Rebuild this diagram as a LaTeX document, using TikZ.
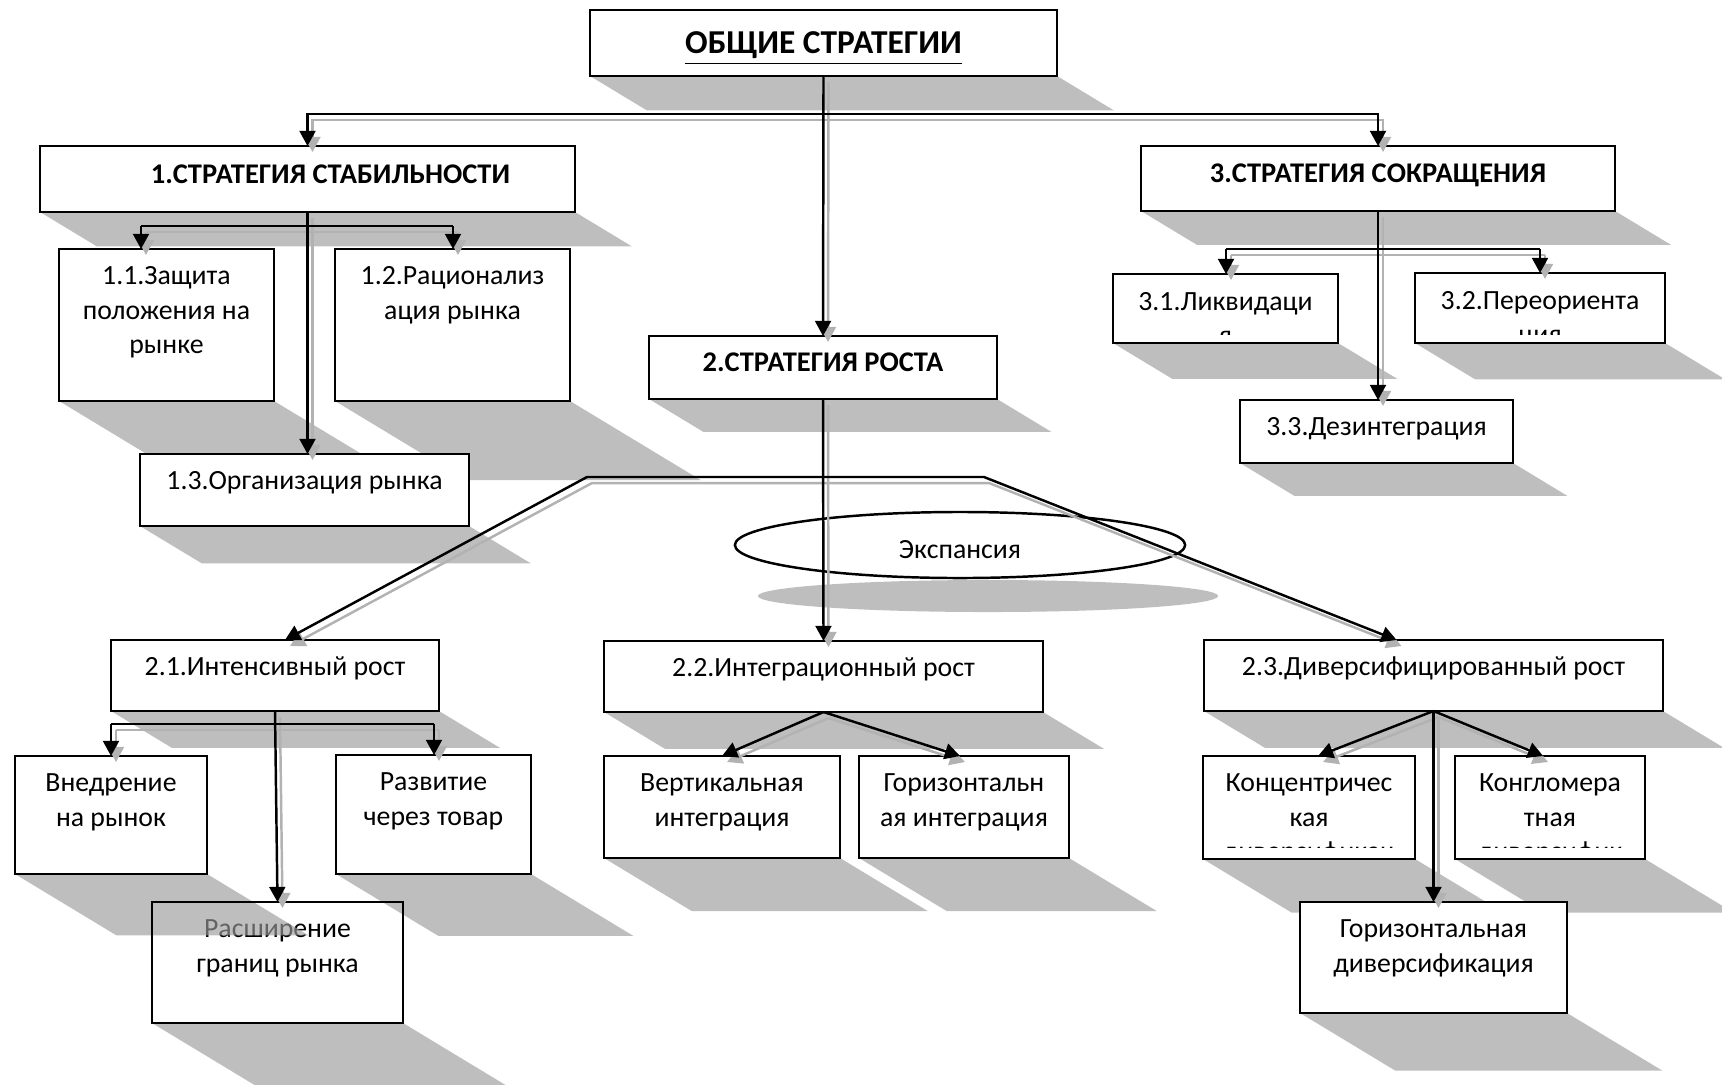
\documentclass[tikz,border=0pt]{standalone}
\usepackage{fontspec}
\setmainfont{Carlito}
\usetikzlibrary{arrows.meta,calc,shapes.geometric}
\pgfdeclarelayer{back}
\pgfdeclarelayer{shadow}
\pgfsetlayers{back,shadow,main}
\definecolor{shd}{RGB}{155,155,155}
\definecolor{sln}{RGB}{178,178,178}
\newcommand\fst{\rule{0pt}{7pt}}
\newif\ifshpass
\tikzset{
  box/.style={draw=black,line width=0.7pt,fill=white,inner sep=0pt,outer sep=0pt,anchor=north west},
  txt/.style={anchor=north,inner sep=0pt,align=center,font=\fontsize{7.9}{9.8}\selectfont},
  hdr/.style={txt,font=\fontsize{8.1}{9.8}\selectfont\bfseries},
  ttl/.style={txt,font=\fontsize{9.5}{11}\selectfont\bfseries},
  conn/.style={line width=0.7pt,-{Triangle[length=4.3pt,width=4.5pt]}},
  both/.style={line width=0.7pt,{Triangle[length=4.3pt,width=4.5pt]}-{Triangle[length=4.3pt,width=4.5pt]}},
  plain/.style={line width=0.7pt},
  shadowfill/.style={fill=shd,fill opacity=0.643},
}
\newcommand\mkbox[6][]{%
  \node[box,#1,minimum width={(#5-#3)*0.01cm},minimum height={(#6-#4)*0.01cm}] (#2) at (#3,#4) {};
  \begin{pgfonlayer}{shadow}
  \fill[shadowfill] (#3,#6) -- (#5,#6) -- ({#5+0.86*(#6-#4)},{#6+0.52*(#6-#4)}) -- ({#3+0.86*(#6-#4)},{#6+0.52*(#6-#4)}) -- cycle;
  \end{pgfonlayer}}
\newcommand\tx[4][txt]{\node[#1] (#2t) at ($(#2.north)+(0,#3)$) {\fst #4};}
\newcommand\cn[2][conn]{%
  \ifshpass\draw[#1,draw=sln,transform canvas={shift={(0.05cm,-0.06cm)}}] #2;%
  \else\draw[#1] #2;\fi}
\newcommand\allconn{%
  \cn{(top.south) -- (b2.north)}
  \cn{(j0) -| (b1.north)}
  \cn{(j0) -| (b3.north)}
  \cn{(b1.south) -- (b1.south |- b13.north)}
  \cn[plain]{(j1l) -- (j1r)}
  \cn{(j1l) -- (j1l |- b11.north)}
  \cn{(j1r) -- (j1r |- b12.north)}
  \cn{(b3.south) -- (b3.south |- b33.north)}
  \cn[plain]{(j3l) -- (j3r)}
  \cn{(j3l) -- (j3l |- b31.north)}
  \cn{(j3r) -- (j3r |- b32.north)}
  \cn{(b2.south) -- (b22.north)}
  \cn[both]{(pL) -- (eL) -- (eR) -- (pR)}
  \cn{(b21.south) -- (brs.north)}
  \cn[plain]{(j21l) -- (j21r)}
  \cn{(j21l) -- (j21l |- bvn.north)}
  \cn{(j21r) -- (j21r |- brz.north)}
  \cn{(b22.south) -- (bvi.north)}
  \cn{(b22.south) -- (gi)}
  \cn{(b23.south) -- (ki)}
  \cn{(b23.south) -- (kg)}
  \cn{(b23.south) -- (bgd.north)}
}
\begin{document}
\begin{tikzpicture}[x=0.01cm,y=-0.01cm]
\useasboundingbox (0,0) rectangle (1722,1084);
\begin{pgfonlayer}{back}
  \fill[white] (0,0) rectangle (1722,1084);
  \node[txt] (brst) at (277.5,912.4) {\fst Расширение\\границ рынка};
\end{pgfonlayer}
% boxes
\mkbox{top}{590}{10}{1057}{76}
\mkbox{b1}{40}{146}{575}{212}
\mkbox{b3}{1141}{146}{1615}{211}
\mkbox{b11}{59}{249}{274}{401}
\mkbox{b12}{335}{249}{570}{401}
\mkbox{b13}{140}{454}{469}{526}
\mkbox{b2}{649}{336}{997}{399}
\mkbox{b31}{1113}{274}{1338}{343}
\mkbox{b32}{1415}{273}{1665}{343}
\mkbox{b33}{1240}{400}{1513}{463}
\mkbox{b21}{111}{640}{439}{711}
\mkbox{b22}{604}{641}{1043}{712}
\mkbox{b23}{1204}{640}{1663}{711}
\mkbox{bvn}{15}{756}{207}{874}
\mkbox{brz}{336}{755}{531}{874}
\mkbox[fill=none]{brs}{152}{902}{403}{1023}
\mkbox{bvi}{604}{756}{840}{858}
\mkbox{bgi}{859}{756}{1069}{858}
\mkbox{bki}{1203}{756}{1415}{859}
\mkbox{bkg}{1455}{756}{1645}{859}
\mkbox{bgd}{1300}{902}{1567}{1013}
% ellipse
\begin{pgfonlayer}{shadow}
  \fill[shadowfill] (988,596) ellipse [x radius=2.3cm, y radius=0.16cm];
\end{pgfonlayer}
\node[draw,ellipse,line width=0.7pt,inner sep=0pt,minimum width=4.5cm,minimum height=0.66cm] (exp) at (960,545) {};
\node[inner sep=0pt,font=\fontsize{7.9}{9.8}\selectfont] (expt) at (960,550) {Экспансия};
% texts
\tx[ttl]{top}{18}{\underline{ОБЩИЕ СТРАТЕГИИ}}
\node[hdr] (b1t) at ($(b1.north)+(23,12)$) {\fst 1.СТРАТЕГИЯ СТАБИЛЬНОСТИ};
\tx[hdr]{b3}{11.5}{3.СТРАТЕГИЯ СОКРАЩЕНИЯ}
\tx[hdr]{b2}{10.5}{2.СТРАТЕГИЯ РОСТА}
\tx{b11}{10.4}{1.1.Защита\\положения на\\рынке}
\tx{b12}{10.4}{1.2.Рационализ\\ация рынка}
\tx{b13}{10.4}{1.3.Организация рынка}
\begin{scope}
  \clip (1113,274) rectangle (1338,334);
  \tx{b31}{11}{3.1.Ликвидаци\\я}
\end{scope}
\begin{scope}
  \clip (1415,273) rectangle (1665,334);
  \tx{b32}{11}{3.2.Переориента\\ция}
\end{scope}
\tx{b33}{10.4}{3.3.Дезинтеграция}
\tx{b21}{10.4}{2.1.Интенсивный рост}
\tx{b22}{10.4}{2.2.Интеграционный рост}
\tx{b23}{10.4}{2.3.Диверсифицированный рост}
\tx{bvn}{10.4}{Внедрение\\на рынок}
\tx{brz}{10.4}{Развитие\\через товар}
\tx{bvi}{10.4}{Вертикальная\\интеграция}
\tx{bgi}{10.4}{Горизонтальн\\ая интеграция}
\begin{scope}
  \clip (1203,756) rectangle (1415,847);
  \tx{bki}{10.4}{Концентричес\\кая\\диверсификац}
\end{scope}
\begin{scope}
  \clip (1455,756) rectangle (1645,847);
  \tx{bkg}{10.4}{Конгломера\\тная\\диверсифик}
\end{scope}
\tx{bgd}{10.4}{Горизонтальная\\диверсификация}
% connector joints
\coordinate (j0) at (823.5,114);
\coordinate (j1l) at (141,226);
\coordinate (j1r) at (453,226);
\coordinate (j3l) at (1226,249);
\coordinate (j3r) at (1540,249);
\coordinate (j21l) at (111,724);
\coordinate (j21r) at (434,724);
\coordinate (eL) at (587,477);
\coordinate (eR) at (984,477);
\coordinate (pL) at ($(b21.north)+(10,0)$);
\coordinate (pR) at ($(b23.north)+(-37,0)$);
\coordinate (gi) at ($(bgi.north)+(-4,0)$);
\coordinate (ki) at ($(bki.north)+(9,0)$);
\coordinate (kg) at ($(bkg.north)+(-7,0)$);
\shpasstrue\allconn
\shpassfalse\allconn
\end{tikzpicture}
\end{document}
